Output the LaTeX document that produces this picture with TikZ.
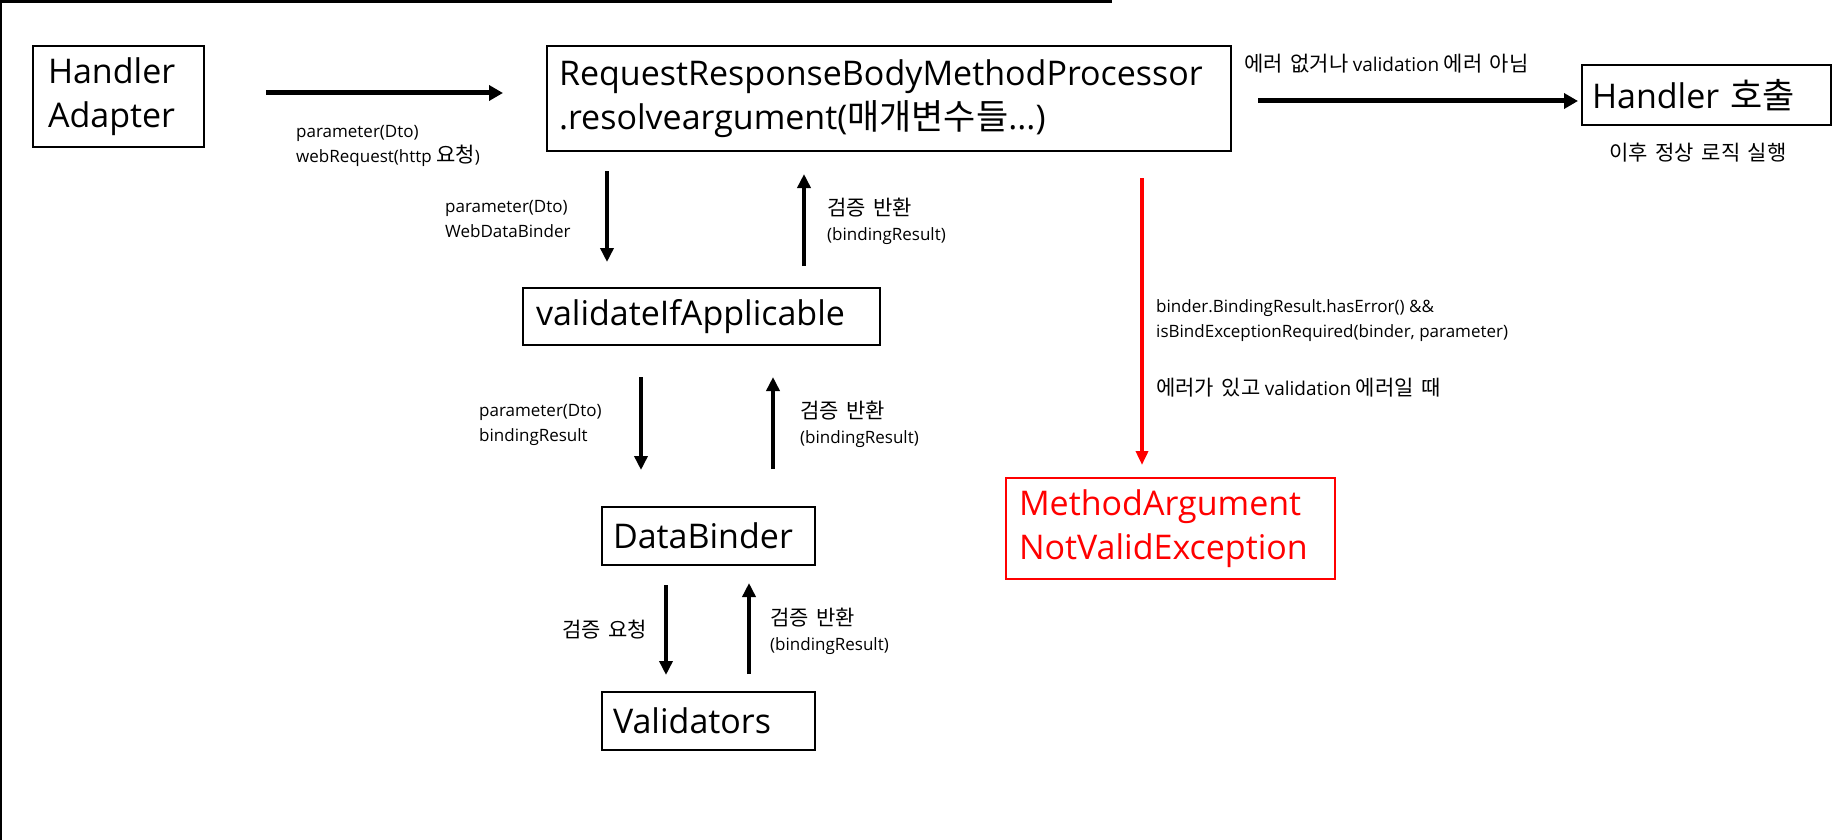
\documentclass[tikz,border=0pt]{standalone}
\usepackage{fontspec}
\setmainfont{Open Sans}
\newfontfamily\kr[WordSpace=1.6]{Noto Sans CJK KR}
\newcommand{\ks}[1]{{\kr\fontsize{21}{25}\selectfont #1}}
\newcommand{\kb}[1]{{\kr\fontsize{35}{44}\selectfont #1}}
\newcommand{\lv}[1]{{\fontsize{19}{25}\selectfont #1}}
\usetikzlibrary{arrows.meta}
\definecolor{errred}{RGB}{255,0,0}
\begin{document}
\begin{tikzpicture}[x=1pt,y=-1pt,
  box/.style={draw=black,line width=2pt,inner sep=0pt,anchor=north west,align=left,
    font=\fontsize{34}{44}\selectfont},
  lbl/.style={anchor=west,align=left,inner sep=0pt,font=\fontsize{17}{25}\selectfont},
  harr/.style={line width=5pt,-{Triangle[length=14pt,width=15pt]}},
  varr/.style={line width=4pt,-{Triangle[length=14pt,width=13pt]}},
  rarr/.style={draw=errred,line width=3.5pt,-{Triangle[length=14pt,width=12pt]}}]
\useasboundingbox (0,0) rectangle (1836,840);
\fill[white] (0,0) rectangle (1836,840);
% frame fragments
\coordinate (fa) at (0,1.5); \coordinate (fb) at (1112,1.5);
\coordinate (fc) at (1,0); \coordinate (fd) at (1,840);
\draw[line width=3pt] (fa) -- (fb);
\draw[line width=2pt] (fc) -- (fd);
% boxes
\node[box,minimum width=171pt,minimum height=101pt,text width=141pt] (ha) at (32,45) {Handler\\Adapter};
\node[box,minimum width=684pt,minimum height=105pt,text width=660pt] (rr) at (546,45)
  {RequestResponseBodyMethodProcessor\\.resolveargument(\kb{매개변수들}...)};
\node[box,minimum width=249pt,minimum height=60pt,text width=229pt] (hc) at (1581,64) {Handler \kb{호출}};
\node[box,minimum width=357pt,minimum height=57pt,text width=331pt] (vi) at (522,287) {validateIfApplicable};
\node[box,minimum width=213pt,minimum height=58pt,text width=191pt] (db) at (601,506) {DataBinder};
\node[box,minimum width=213pt,minimum height=58pt,text width=191pt] (va) at (601,691) {Validators};
\node[box,draw=errred,text=errred,minimum width=329pt,minimum height=101pt,text width=303pt] (ex) at (1005,477)
  {MethodArgument\\NotValidException};
% arrow end points
\coordinate (a1s) at (266,93);   \coordinate (a1e) at (503,93);
\coordinate (a2s) at (1258,101); \coordinate (a2e) at (1578,101);
\coordinate (d1s) at (607,171);  \coordinate (d1e) at (607,262);
\coordinate (u1s) at (804,266);  \coordinate (u1e) at (804,174);
\coordinate (d2s) at (641,377);  \coordinate (d2e) at (641,470);
\coordinate (u2s) at (773,469);  \coordinate (u2e) at (773,377);
\coordinate (d3s) at (666,585);  \coordinate (d3e) at (666,675);
\coordinate (u3s) at (749,674);  \coordinate (u3e) at (749,583);
\coordinate (rs) at (1142,178);  \coordinate (re) at (1142,465);
\draw[harr] (a1s) -- (a1e);
\draw[harr] (a2s) -- (a2e);
\draw[varr] (d1s) -- (d1e);
\draw[varr] (u1s) -- (u1e);
\draw[varr] (d2s) -- (d2e);
\draw[varr] (u2s) -- (u2e);
\draw[varr] (d3s) -- (d3e);
\draw[varr] (u3s) -- (u3e);
\draw[rarr] (rs) -- (re);
% labels
\node[lbl] (l1) at (296,146) {parameter(Dto)\\webRequest(http \ks{요청})};
\node[lbl] (l2) at (1244,64) {\ks{에러 없거나} \lv{validation} \ks{에러 아님}};
\node[lbl,anchor=center] (l3) at (1698,153) {\ks{이후 정상 로직 실행}};
\node[lbl] (l4) at (445,219) {parameter(Dto)\\WebDataBinder};
\node[lbl] (l5) at (827,221) {\ks{검증 반환}\\(bindingResult)};
\node[lbl] (l6) at (479,425) {parameter(Dto)\\bindingResult};
\node[lbl] (l7) at (800,424) {\ks{검증 반환}\\(bindingResult)};
\node[lbl] (l8) at (562,630) {\ks{검증 요청}};
\node[lbl] (l9) at (770,631) {\ks{검증 반환}\\(bindingResult)};
\node[lbl] (l10) at (1156,321) {binder.BindingResult.hasError() \&\&\\isBindExceptionRequired(binder, parameter)};
\node[lbl] (l11) at (1156,388) {\ks{에러가 있고} \lv{validation} \ks{에러일 때}};
\end{tikzpicture}
\end{document}
